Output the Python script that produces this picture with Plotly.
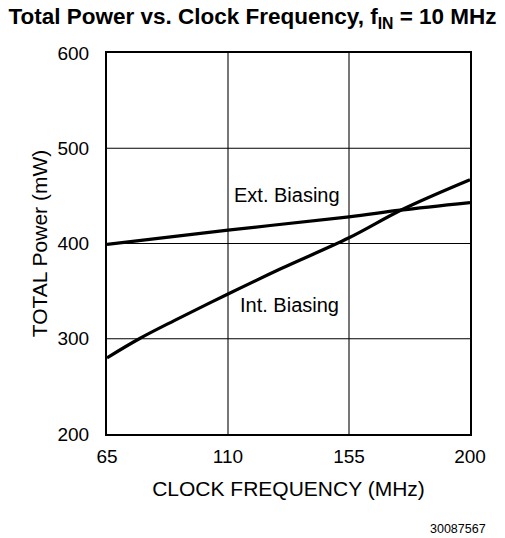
import plotly.graph_objects as go

# Data
freq_ext = [65, 110, 155, 174, 200]
power_ext = [399, 414, 428, 435, 443]

freq_int = [65, 77, 90, 110, 130, 155, 175, 200]
power_int = [280, 300, 319, 347, 374, 406, 436, 467]

x_ticks = [65, 110, 155, 200]
y_ticks = [200, 300, 400, 500, 600]

FONT = "Liberation Sans, Arial, sans-serif"

fig = go.Figure()
fig.add_trace(go.Scatter(x=freq_ext, y=power_ext, mode="lines",
                         line=dict(color="black", width=3.2, shape="spline"),
                         showlegend=False, hoverinfo="skip"))
fig.add_trace(go.Scatter(x=freq_int, y=power_int, mode="lines",
                         line=dict(color="black", width=3.2, shape="spline"),
                         showlegend=False, hoverinfo="skip"))

# Gridlines: vertical gray, horizontal black
for xv in x_ticks[1:-1]:
    fig.add_shape(type="line", x0=xv, x1=xv, y0=200, y1=600, xref="x", yref="y",
                  line=dict(color="#555555", width=1.6), layer="below")
for yv in y_ticks[1:-1]:
    fig.add_shape(type="line", x0=65, x1=200, y0=yv, y1=yv, xref="x", yref="y",
                  line=dict(color="black", width=1.2), layer="below")

fig.add_annotation(x=132.1, y=451, xref="x", yref="y", text="Ext. Biasing",
                   showarrow=False, xanchor="center", yanchor="middle",
                   font=dict(family=FONT, size=20, color="black"))
fig.add_annotation(x=113.7, y=335, xref="x", yref="y", text="Int. Biasing",
                   showarrow=False, xanchor="left", yanchor="middle",
                   font=dict(family=FONT, size=20, color="black"))

fig.add_annotation(x=1.05, y=-0.249, xref="paper", yref="paper", text="30087567",
                   showarrow=False, xanchor="right", yanchor="middle",
                   font=dict(family=FONT, size=12.5, color="black"))

fig.update_layout(
    width=505, height=538,
    margin=dict(l=107, r=35, t=53, b=104),
    paper_bgcolor="white", plot_bgcolor="white",
    title=dict(text="<b>Total Power vs. Clock Frequency, f<sub>IN</sub> = 10 MHz</b>",
               x=0.5, xanchor="center", y=0.970, yanchor="middle",
               font=dict(family=FONT, size=22.5, color="black")),
    xaxis=dict(range=[65, 200], tickvals=x_ticks, ticktext=[str(v) for v in x_ticks],
               showgrid=False, zeroline=False, showline=True, mirror=True,
               linecolor="black", linewidth=2, ticks="", ticklabelstandoff=4,
               tickfont=dict(family=FONT, size=19, color="black"),
               title=dict(text="CLOCK FREQUENCY (MHz)", standoff=16,
                          font=dict(family=FONT, size=21, color="black"))),
    yaxis=dict(range=[200, 600], tickvals=y_ticks, ticktext=[str(v) for v in y_ticks],
               showgrid=False, zeroline=False, showline=True, mirror=True,
               linecolor="black", linewidth=2, ticks="", ticklabelstandoff=12,
               tickfont=dict(family=FONT, size=19, color="black"),
               title=dict(text="TOTAL Power (mW)", standoff=4,
                          font=dict(family=FONT, size=21, color="black"))),
)

fig.write_html("out.html")
